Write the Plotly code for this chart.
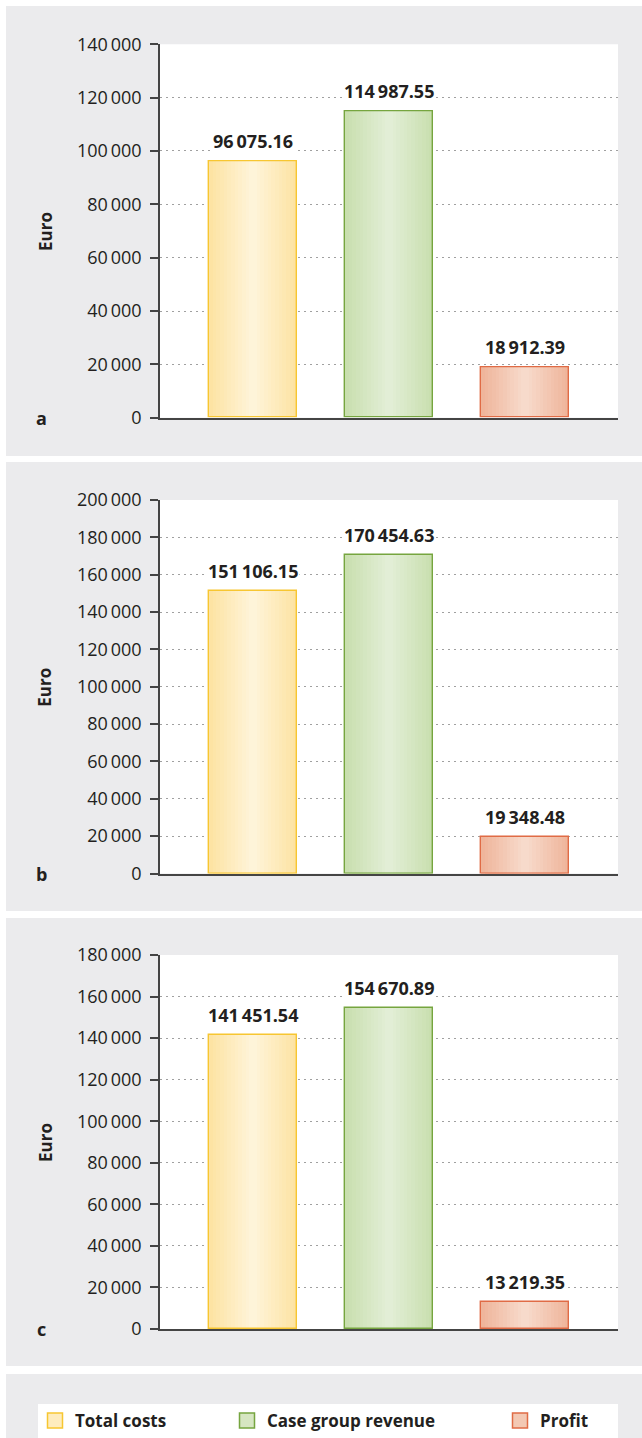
import plotly.graph_objects as go

# ---------------- data ----------------
categories = ["Total costs", "Case group revenue", "Profit"]
panel_labels = ["a", "b", "c"]
values_a = [96075.16, 114987.55, 18912.39]
values_b = [151106.15, 170454.63, 19348.48]
values_c = [141451.54, 154670.89, 13219.35]
y_max = [140000, 200000, 180000]
y_step = 20000
y_title = "Euro"

# ---------------- style ----------------
W, H = 642, 1438
FONT = "Open Sans"
TXT = "#231f20"
edge_cols = ["#FDE3A3", "#C9DFAF", "#EFB59B"]
mid_cols = ["#FEF4D9", "#E2EED6", "#F7DACB"]
line_cols = ["#F7C631", "#76A53F", "#E06B45"]
BW = 0.647
NL = 12

panels_px = [(6, 456), (462, 911), (918, 1366)]
plots_px = [(44.3, 417.7), (500.0, 873.5), (955.0, 1329.0)]
legend_panel_px = (1374, 1438)
x_dom = [160 / W, 618 / W]


def py(p):
    return 1 - p / H


def hx(c):
    c = c.lstrip("#")
    return [int(c[i:i + 2], 16) for i in (0, 2, 4)]


def lerp(c1, c2, t):
    a, b = hx(c1), hx(c2)
    return "rgb(%d,%d,%d)" % tuple(round(a[k] + (b[k] - a[k]) * t) for k in range(3))


def fmt(v, dec=2):
    return f"{v:,.{dec}f}".replace(",", "\u2009")


fig = go.Figure()
all_values = [values_a, values_b, values_c]
xs = list(range(len(categories)))
shapes = []
annotations = []

for p, vals in enumerate(all_values):
    xa = "x" if p == 0 else f"x{p + 1}"
    ya = "y" if p == 0 else f"y{p + 1}"
    # gray panel + white plot area
    shapes.append(dict(type="rect", xref="paper", yref="paper", x0=6 / W, x1=1,
                       y0=py(panels_px[p][1]), y1=py(panels_px[p][0]),
                       fillcolor="#EBEBED", line=dict(width=0), layer="below"))
    shapes.append(dict(type="rect", xref=f"{xa} domain", yref=f"{ya} domain",
                       x0=0, x1=1, y0=0, y1=1,
                       fillcolor="white", line=dict(width=0), layer="below"))
    # gradient layers
    for i in range(NL):
        t = i / (NL - 1)
        fig.add_trace(go.Bar(
            x=xs, y=vals, width=BW * (1 - i / NL), xaxis=xa, yaxis=ya,
            marker=dict(color=[lerp(edge_cols[k], mid_cols[k], t) for k in xs],
                        line=dict(width=0)),
            showlegend=False, hoverinfo="skip"))
    # outline
    fig.add_trace(go.Bar(
        x=xs, y=vals, width=BW, xaxis=xa, yaxis=ya,
        marker=dict(color="rgba(0,0,0,0)", line=dict(color=line_cols, width=1.4)),
        showlegend=False, hovertemplate="%{y}<extra></extra>"))
    # value labels
    for k, v in zip(xs, vals):
        annotations.append(dict(x=k, y=v, xref=xa, yref=ya, text=f"<b>{fmt(v)}</b>",
                                showarrow=False, yanchor="bottom", yshift=6,
                                bgcolor="white", borderpad=1,
                                font=dict(family=FONT, size=18, color=TXT)))
    # axis title
    annotations.append(dict(x=45 / W, y=0.5, xref="paper", yref=f"{ya} domain",
                            xanchor="center", yanchor="middle",
                            text=f"<b>{y_title}</b>", textangle=-90, showarrow=False,
                            font=dict(family=FONT, size=17, color=TXT)))
    # panel letter
    annotations.append(dict(x=42 / W, y=0, xref="paper", yref=ya,
                            xanchor="center", yanchor="middle",
                            text=f"<b>{panel_labels[p]}</b>", showarrow=False,
                            font=dict(family=FONT, size=18, color=TXT)))

    ydom = [py(plots_px[p][1]), py(plots_px[p][0])]
    xkey = "xaxis" if p == 0 else f"xaxis{p + 1}"
    ykey = "yaxis" if p == 0 else f"yaxis{p + 1}"
    fig.update_layout({
        xkey: dict(domain=x_dom, range=[-0.684, 2.684], anchor=ya,
                   showticklabels=False, ticks="", showgrid=False, zeroline=False,
                   showline=True, linecolor="#444", linewidth=1.5, fixedrange=True,
                   automargin=False),
        ykey: dict(domain=ydom, range=[0, y_max[p]], anchor=xa,
                   tickvals=list(range(0, y_max[p] + 1, y_step)),
                   ticktext=[fmt(v, 0) for v in range(0, y_max[p] + 1, y_step)],
                   ticks="outside", ticklen=8, tickwidth=1.5, tickcolor="#444",
                   showline=True, linecolor="#444", linewidth=1.5,
                   showgrid=True, gridcolor="#a0a0a0", griddash="2px,4px", gridwidth=1.3,
                   zeroline=False, ticklabelstandoff=5, automargin=False,
                   tickfont=dict(family=FONT, size=18, color=TXT), fixedrange=True),
    })

# legend panel
shapes.append(dict(type="rect", xref="paper", yref="paper", x0=6 / W, x1=1,
                   y0=py(legend_panel_px[1]), y1=py(legend_panel_px[0]),
                   fillcolor="#EBEBED", line=dict(width=0), layer="below"))
shapes.append(dict(type="rect", xref="paper", yref="paper", x0=38 / W, x1=618 / W,
                   y0=py(1438), y1=py(1404),
                   fillcolor="white", line=dict(width=0), layer="below"))

legend_x_px = [35, 227, 500]
legend_names = ["legend", "legend2", "legend3"]
for k, name in enumerate(categories):
    fig.add_trace(go.Scatter(
        x=[None], y=[None], mode="markers", name=f"<b>{name}</b>",
        marker=dict(symbol="square", size=15, color=lerp(edge_cols[k], mid_cols[k], 0.5),
                    line=dict(color=line_cols[k], width=1.5)),
        legend=legend_names[k], showlegend=True, xaxis="x3", yaxis="y3"))

layout_legends = {}
for k, name in enumerate(legend_names):
    layout_legends[name] = dict(x=legend_x_px[k] / W, y=py(1421), xanchor="left",
                                yanchor="middle", bgcolor="rgba(0,0,0,0)",
                                font=dict(family=FONT, size=17, color=TXT),
                                itemclick=False, itemdoubleclick=False)

fig.update_layout(
    width=W, height=H, margin=dict(l=0, r=0, t=0, b=0, pad=0, autoexpand=False),
    paper_bgcolor="white", plot_bgcolor="rgba(0,0,0,0)",
    barmode="overlay", bargap=0,
    shapes=shapes, annotations=annotations,
    font=dict(family=FONT, color=TXT),
    **layout_legends,
)

fig.write_html("out.html", config={"displayModeBar": False},
               post_script="document.body.style.margin='0';"
                           "document.body.style.overflow='hidden';")
